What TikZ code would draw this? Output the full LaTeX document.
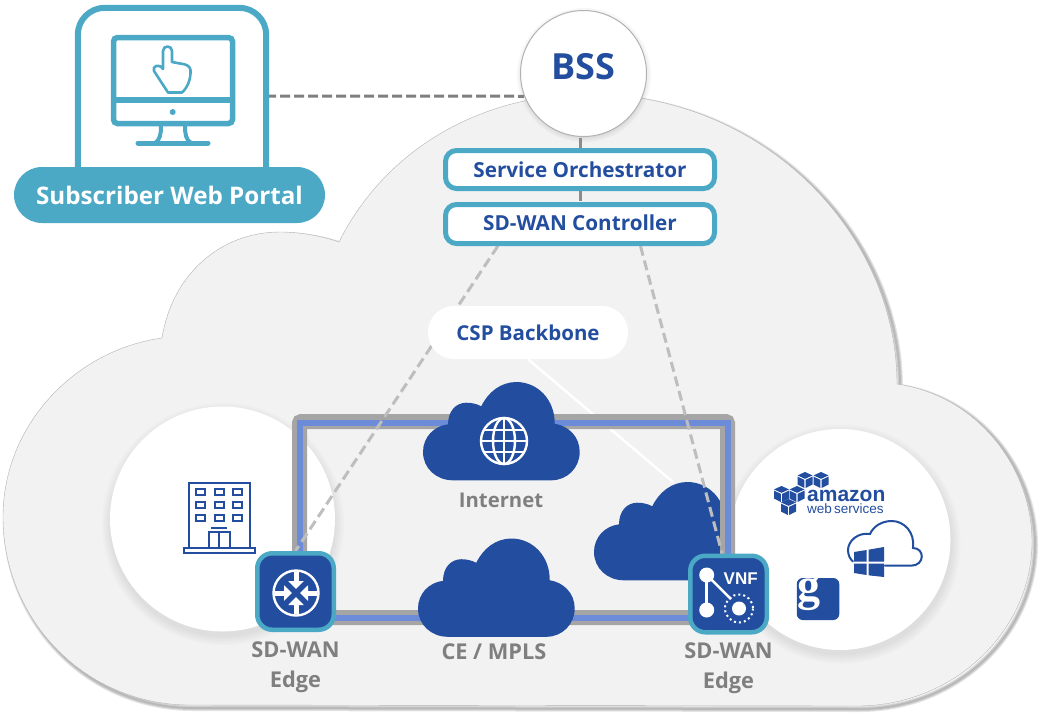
\documentclass[tikz,border=0pt]{standalone}
\usepackage{fontspec}
\setmainfont{Open Sans}
\newfontfamily\logofont{Liberation Sans}
\newfontfamily\gfont{Liberation Serif}
\definecolor{cspblue}{RGB}{35,78,159}
\definecolor{cspteal}{RGB}{75,169,198}
\definecolor{cspband}{RGB}{108,139,216}
\definecolor{cspframe}{RGB}{165,165,165}
\definecolor{csptext}{RGB}{127,127,127}
\definecolor{csplink}{RGB}{190,190,190}
\definecolor{cspcloud}{RGB}{242,242,243}
\usetikzlibrary{arrows.meta,calc}
\pgfdeclarelayer{back}
\pgfdeclarelayer{mid}
\pgfsetlayers{back,mid,main}
\newcommand{\fsz}[1]{\fontsize{#1}{#1}\selectfont}
\newcommand{\bigcloudpath}{(162,338) .. controls (75,350) and (3,425) .. (3,517)
    .. controls (3,620) and (85,705) .. (190,705) -- (857,706)
    .. controls (955,706) and (1032,630) .. (1032,542)
    .. controls (1032,465) and (975,395) .. (897,384)
    .. controls (897,230) and (760,94) .. (590,94)
    .. controls (480,94) and (385,150) .. (339,242)
    .. controls (322,236) and (300,232) .. (280,232)
    .. controls (220,232) and (172,275) .. (162,338) -- cycle}
\tikzset{
    whitedisc/.style={circle, fill=white, inner sep=0pt, minimum size=#1},
    tealbox/.style={draw=cspteal, fill=white, line width=5pt, rounded corners=11pt, inner sep=0pt,
        minimum width=269pt, text=cspblue, font=\bfseries\fsz{20.7}},
    edgebox/.style={draw=cspteal, fill=cspblue, line width=4.5pt, rounded corners=15pt, inner sep=0pt,
        minimum size=76.5pt},
    greylabel/.style={text=csptext, font=\bfseries\fsz{21}, inner sep=0pt, anchor=base},
    linkline/.style={draw=csplink, line width=3pt, dash pattern=on 10pt off 5pt},
    bluecloud/.pic={
        \fill[cspblue] (30,98.3) .. controls (13,98.3) and (0,86) .. (0,70)
            .. controls (0,55) and (11,44) .. (25,42.3)
            .. controls (25,29) and (33,20.7) .. (43.3,20.7)
            .. controls (49,20.7) and (54,22) .. (58.3,24.3)
            .. controls (65,10) and (78,0) .. (93.3,0)
            .. controls (115,0) and (132,18) .. (131.7,41.7)
            .. controls (146,44) and (156.7,55) .. (156.7,70)
            .. controls (156.7,86) and (144,98.3) .. (128.3,98.3) -- cycle;
    },
    awscube/.pic={
        \fill[cspblue] (0,-8) -- (7.5,-4.6) -- (0,-1.2) -- (-7.5,-4.6) -- cycle;
        \fill[cspblue] (-7.5,-3.4) -- (-0.7,-0.2) -- (-0.7,8) -- (-7.5,4.6) -- cycle;
        \fill[cspblue] (7.5,-3.4) -- (0.7,-0.2) -- (0.7,8) -- (7.5,4.6) -- cycle;
    }
}
\begin{document}
\begin{tikzpicture}[x=1pt,y=-1pt]
    \useasboundingbox (0,0) rectangle (1043,716);

    % Portal
    \node[inner sep=0pt, minimum width=188pt, minimum height=176pt] (portal) at (172,96) {};
    \draw[cspteal, line width=6pt, rounded corners=27pt] (portal.south west) -- (portal.north west)
        -- (portal.north east) -- (portal.south east);
    \node[fill=cspteal, rounded corners=28pt, inner sep=0pt, minimum width=311pt, minimum height=56pt,
          text=white, font=\bfseries\fsz{24.2}] (portallabel) at (169.5,195) {Subscriber Web Portal};
    \draw[cspteal, line width=5.5pt, rounded corners=4pt] (113.5,37.5) rectangle (232.5,123.5);
    \draw[cspteal, line width=5.5pt] (113.5,100) -- (232.5,100);
    \fill[cspteal] (172.7,112) circle[radius=3];
    \draw[cspteal, line width=4pt] (161,126) .. controls (161,134) and (160,140) .. (155,143);
    \draw[cspteal, line width=4pt] (185,126) .. controls (185,134) and (186,140) .. (191,143);
    \draw[cspteal, line width=5pt, line cap=round] (138,143) -- (208,143);
    \draw[cspteal, line width=2.6pt, line join=round] (168,92.5) -- (154,71)
        .. controls (152,66) and (159,63) .. (163,69) -- (163,51)
        .. controls (163,45) and (172,45) .. (172,51) -- (172,62) -- (180,63.5)
        .. controls (186,64) and (190,66) .. (190.5,70)
        .. controls (191,80) and (187,88) .. (182,92.5) -- cycle;

    % Top of the stack
    \node[circle, fill=white, draw=black!30, line width=1pt, inner sep=0pt, minimum size=126pt,
          text=cspblue, font=\bfseries\fsz{36}] (bss) at (583.5,73.5) {\raisebox{15pt}{BSS}};
    \node[tealbox, minimum height=38pt] (orch) at (580,169.5) {Service Orchestrator};
    \node[tealbox, minimum height=39pt] (ctrl) at (580,224) {\raisebox{3pt}{SD-WAN Controller}};
    \node[fill=white, rounded corners=26pt, inner sep=0pt, minimum width=200pt, minimum height=53pt,
          text=cspblue, font=\bfseries\fsz{20.5}] (backbone) at (528,332.5) {CSP Backbone};

    % Edge boxes
    \node[edgebox] (edgeL) at (295.5,591.5) {};
    \node[edgebox] (edgeR) at (728.5,594) {};
    \coordinate (cloudtop) at (673,482);

    \begin{pgfonlayer}{back}
        % Big cloud with its shadow
        \foreach \w in {6,4,2}
            \draw[black, opacity=.1, line width=\w pt, shift={(3,3)}] \bigcloudpath;
        \fill[cspcloud] \bigcloudpath;
        \draw[black!30, line width=.4pt] \bigcloudpath;
        % Site circles
        \foreach \e in {9,7,5,3,1} {
            \fill[black, opacity=.015] (223,524) circle[radius=112+\e];
            \fill[black, opacity=.015] (841,544) circle[radius=110.5+\e];
            \fill[black, opacity=.03] (584,75) circle[radius=58+\e];
        }
        \node[whitedisc=225pt] (site) at (222.5,519) {};
        \node[whitedisc=221pt] (apps) at (840,539.5) {};
        \draw[white, line width=2.5pt] (backbone.south) -- (cloudtop);
        \begin{scope}
            \clip (590,470) rectangle (722,590);
            \pic at (594,482) {bluecloud};
        \end{scope}
        % Transport ring
        \draw[cspframe, line width=15pt, rounded corners=2pt] (299.5,421.5) rectangle (727.5,617.5);
        \draw[cspband, line width=6pt] (299.5,423) rectangle (727.5,617.5);
    \end{pgfonlayer}

    % Dashed links
    \begin{pgfonlayer}{mid}
        \draw[draw=csptext, line width=3pt, dash pattern=on 10pt off 4pt] (portal.east) -- (bss.201);
        \draw[linkline, draw=black!45] (orch.north) -- (orch.north |- bss.south);
        \draw[linkline, draw=black!45] (orch.south) -- (ctrl.north);
        \draw[linkline] (ctrl.195) -- (edgeL.north);
        \draw[linkline] (ctrl.340) -- (edgeR.99);
    \end{pgfonlayer}

    % Networks
    \pic at (423,382) {bluecloud};
    \pic at (418,538.5) {bluecloud};
    \node[greylabel, font=\bfseries\fsz{20.3}] (internet) at (501,507.3) {Internet};
    \node[greylabel, font=\bfseries\fsz{21.8}] (mpls) at (494,659.3) {CE / MPLS};
    \node[greylabel, font=\bfseries\fsz{21.8}] (edgeLa) at (295.5,657) {SD-WAN};
    \node[greylabel, font=\bfseries\fsz{21.8}] (edgeLb) at (295.5,687) {Edge};
    \node[greylabel, font=\bfseries\fsz{21.8}] (edgeRa) at (728.5,658) {SD-WAN};
    \node[greylabel, font=\bfseries\fsz{21.8}] (edgeRb) at (728.5,688) {Edge};

    % Globe
    \begin{scope}[shift={(504,441)}, draw=white, line width=2.4pt]
        \draw (0,0) circle[radius=23];
        \draw (0,0) ellipse[x radius=11, y radius=23];
        \draw (0,-23) -- (0,23);
        \draw (-23,0) -- (23,0);
        \draw (-20,-11) -- (20,-11);
        \draw (-20,11) -- (20,11);
    \end{scope}

    % Building
    \begin{scope}[draw=cspblue, line width=2pt]
        \draw (189,547) -- (189,482.5) -- (249.5,482.5) -- (249.5,547);
        \draw (183.5,547.5) rectangle (254.5,552.5);
        \foreach \bx in {200.7,219,237}
            \foreach \by in {492,505,518}
                \draw (\bx-4.5,\by-3) rectangle (\bx+4.5,\by+3);
        \draw (208.5,547) -- (208.5,532) -- (229.5,532) -- (229.5,547);
        \draw (219,532) -- (219,547);
        \draw (211,527.5) -- (227,527.5);
    \end{scope}

    % Router icon
    \draw[white, line width=2.4pt] (edgeL.center) ++(0.5,1.5) circle[radius=22.5];
    \foreach \a in {0,90,180,270}
        \draw[white, line width=5pt, -{Triangle[length=8pt,width=15pt]}]
            ($(edgeL.center)+(0.5,1.5)+(\a:21)$) -- ($(edgeL.center)+(0.5,1.5)+(\a:4)$);

    % VNF icon
    \draw[white, line width=2.5pt] (706.7,575) -- (706.7,610);
    \draw[white, line width=2.5pt] (706.7,575) -- (731,599);
    \fill[white] (706.7,575) circle[radius=7.5];
    \fill[white] (706.7,610) circle[radius=7.5];
    \fill[white] (739,608.5) circle[radius=7];
    \draw[white, line width=2pt, dash pattern=on 2pt off 3pt] (739,608.5) circle[radius=14];
    \node[text=white, inner sep=0pt, font=\logofont\bfseries\fsz{17}] (vnf) at (740.7,579) {VNF};

    % Amazon logo
    \pic at (805,480) {awscube};
    \pic at (821,480) {awscube};
    \pic at (781.5,494) {awscube};
    \pic at (797,494) {awscube};
    \pic at (788.5,507) {awscube};
    \node[anchor=west, inner sep=0pt, align=left, text=cspblue, font=\logofont] (amazon) at (807,501.5)
        {\fontsize{21}{12.5}\selectfont\bfseries amazon\\\fontsize{13.5}{12.5}\selectfont\mdseries web\,services};

    % Windows cloud
    \draw[cspblue, line width=2pt, line cap=round] (885,565.7) -- (911,565.7)
        .. controls (925,565.7) and (925,548) .. (913,548)
        .. controls (915,532) and (904,521) .. (891.7,521)
        .. controls (881,521) and (873,527) .. (870,534)
        .. controls (858,532) and (848,541) .. (848,550)
        .. controls (848,555) and (850,559) .. (853,561.5);
    \fill[cspblue] (854,552) -- (866.5,550) -- (866.5,561.5) -- (854,561.5) -- cycle;
    \fill[cspblue] (868.5,549.7) -- (884,547) -- (884,561.5) -- (868.5,561.5) -- cycle;
    \fill[cspblue] (854,563.5) -- (866.5,563.5) -- (866.5,575) -- (854,573) -- cycle;
    \fill[cspblue] (868.5,563.5) -- (884,563.5) -- (884,577) -- (868.5,575.3) -- cycle;

    % Google tile
    \node[fill=cspblue, rounded corners=6pt, inner sep=0pt, minimum width=42.5pt, minimum height=42pt] (google) at (818,599) {};
    \node[text=white, inner sep=0pt, font=\gfont\bfseries\fsz{46}] (gletter) at (808.5,594) {g};
\end{tikzpicture}
\end{document}
